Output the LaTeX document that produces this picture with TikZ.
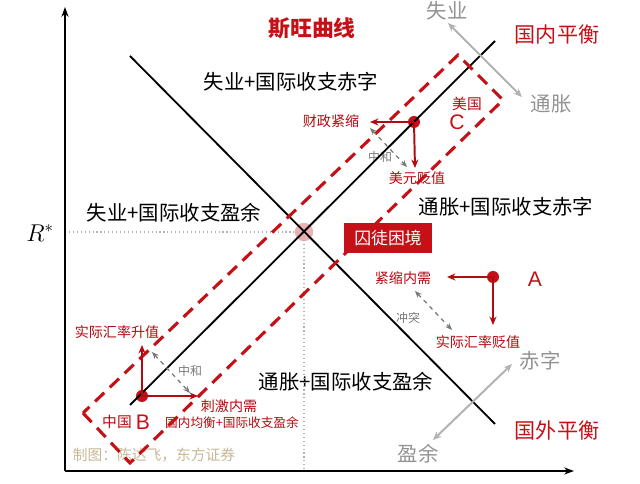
\documentclass[tikz,border=0pt]{standalone}
\usepackage{fontspec}
\setsansfont{Liberation Sans}
\newfontfamily\cjk{Noto Sans CJK SC}
\usetikzlibrary{arrows.meta}
\definecolor{swanred}{RGB}{196,16,22}
\definecolor{arrowred}{RGB}{178,10,16}
\definecolor{softgray}{RGB}{120,120,120}
\definecolor{lightgray}{RGB}{178,178,178}
\definecolor{credit}{RGB}{198,184,150}
\begin{document}
\begin{tikzpicture}[x=0.025cm,y=-0.025cm]
		\tikzset{dot/.style = {shape=circle, fill=swanred, inner sep=0pt, minimum size=0.3cm}}
		\tikzset{region/.style = {font=\cjk\fontsize{14.5}{15}\selectfont, inner sep=0pt}}
		\tikzset{redlbl/.style = {font=\cjk\fontsize{10}{11}\selectfont, text=arrowred, inner sep=0pt}}
		\tikzset{graylbl/.style = {font=\cjk\fontsize{14.5}{15}\selectfont, text=softgray!80, inner sep=0pt}}
		\tikzset{balance/.style = {font=\cjk\fontsize{15}{16}\selectfont, text=swanred, inner sep=0pt}}
		\tikzset{letter/.style = {font=\sffamily\fontsize{15}{16}\selectfont, text=swanred, inner sep=0pt}}
		\tikzset{move/.style = {draw=arrowred, line width=1.4pt, -{Stealth[length=6pt,width=5pt]}}}
		\tikzset{clash/.style = {draw=softgray, line width=0.9pt, dashed, {Stealth[length=5pt,width=4pt]}-{Stealth[length=5pt,width=4pt]}}}
		\tikzset{trend/.style = {draw=lightgray, line width=1.4pt, {Stealth[length=6pt,width=5pt]}-{Stealth[length=6pt,width=5pt]}}}
		\useasboundingbox (0,0) rectangle (640,484);

		\coordinate (O) at (65,471);
		\coordinate (Y_top) at (65,7);
		\coordinate (X_end) at (574,471);
		\coordinate (R_left) at (65,232);
		\coordinate (R_foot) at (304,471);

		\coordinate (IB_1) at (130,405);
		\coordinate (IB_2) at (495,41);
		\coordinate (EB_1) at (130,56);
		\coordinate (EB_2) at (495,424);

		\coordinate (Box_1) at (83,413);
		\coordinate (Box_2) at (130,463);
		\coordinate (Box_3) at (503,100);
		\coordinate (Box_4) at (458,55);

		\node[circle, fill=red!75!black, fill opacity=0.3, inner sep=0pt, minimum size=0.46cm] (X) at (304,232) {};
		\node[font=\fontsize{17}{18}\selectfont, inner sep=0pt] (R_star) at (40,233) {$R^{*}$};

		\node[font=\cjk\bfseries\fontsize{15.5}{16}\selectfont, text=swanred, inner sep=0pt] (title) at (312,28) {斯旺曲线};
		\node[balance] (IB_lbl) at (557,35) {国内平衡};
		\node[balance] (EB_lbl) at (557,430) {国外平衡};

		\node[region] (Q_1) at (291,82) {失业+国际收支赤字};
		\node[region] (Q_2) at (174,213) {失业+国际收支盈余};
		\node[region] (Q_3) at (506,207) {通胀+国际收支赤字};
		\node[region] (Q_4) at (346,382) {通胀+国际收支盈余};

		\node[graylbl] (U_lbl) at (447,11) {失业};
		\node[graylbl] (I_lbl) at (551,104) {通胀};
		\node[graylbl] (D_lbl) at (540,361) {赤字};
		\node[graylbl] (S_lbl) at (418,454) {盈余};
		\coordinate (U_end) at (448,23);
		\coordinate (I_end) at (522,97);
		\coordinate (D_end) at (512,364);
		\coordinate (S_end) at (433,440);

		\node[dot] (P_C) at (414,122) {};
		\coordinate (C_left) at (370,122);
		\coordinate (C_down) at (415,168);
		\coordinate (C_t1) at (370,128);
		\coordinate (C_t2) at (407,167);
		\node[redlbl] (C_fis) at (331,121) {财政紧缩};
		\node[redlbl] (C_usd) at (417,178) {美元贬值};
		\node[redlbl, font=\cjk\fontsize{10.5}{11}\selectfont] (C_name) at (467,104) {美国};
		\node[letter] (C) at (457,122) {C};
		\node[redlbl, text=softgray, font=\cjk\fontsize{8.5}{9}\selectfont] (C_mid) at (380,157) {中和};

		\node[dot] (P_A) at (493,277) {};
		\coordinate (A_left) at (447,277);
		\coordinate (A_down) at (493,325);
		\coordinate (A_t1) at (415,291);
		\coordinate (A_t2) at (452,330);
		\node[redlbl] (A_dem) at (403,278) {紧缩内需};
		\node[redlbl] (A_fx) at (478,342) {实际汇率贬值};
		\node[letter] (A) at (535,279) {A};
		\node[redlbl, text=softgray, font=\cjk\fontsize{8.5}{9}\selectfont] (A_mid) at (408,318) {冲突};

		\node[dot] (P_B) at (142,396) {};
		\coordinate (B_up) at (142,345);
		\coordinate (B_right) at (198,396);
		\coordinate (B_t1) at (152,352);
		\coordinate (B_t2) at (190,393);
		\node[redlbl] (B_fx) at (117,332) {实际汇率升值};
		\node[redlbl] (B_dem) at (229,406) {刺激内需};
		\node[redlbl, font=\cjk\fontsize{10.5}{11}\selectfont] (B_name) at (117,422) {中国};
		\node[letter] (B) at (143,422) {B};
		\node[redlbl, font=\cjk\fontsize{9}{10}\selectfont] (B_note) at (232,423) {国内均衡+国际收支盈余};
		\node[redlbl, text=softgray, font=\cjk\fontsize{8.5}{9}\selectfont] (B_mid) at (190,371) {中和};

		\node[font=\cjk\fontsize{10.5}{11}\selectfont, text=credit, inner sep=0pt] (credit) at (154,455) {制图：陈达飞，东方证券};




		\draw[lightgray, dotted, line width=0.8pt] (R_left)--(X.center);
		\draw[lightgray, dotted, line width=0.8pt] (X.center)--(R_foot);

		\draw[line width=1.5pt, -{Stealth[length=7pt,width=5pt]}] (O)--(Y_top);
		\draw[line width=1.5pt, -{Stealth[length=7pt,width=5pt]}] (O)--(X_end);

		\draw[line width=1.3pt] (IB_1)--(IB_2);
		\draw[line width=1.3pt] (EB_1)--(EB_2);

		\draw[swanred, line width=2.2pt, dash pattern=on 9pt off 5.5pt] (Box_1)--(Box_2)--(Box_3)--(Box_4)--cycle;

		\draw[trend] (U_end)--(I_end);
		\draw[trend] (S_end)--(D_end);

		\node[fill=swanred, text=white, font=\cjk\fontsize{12}{13}\selectfont, minimum width=2.22cm, minimum height=0.75cm, inner sep=0pt] (trap) at (388,238) {囚徒困境};



		\draw[move] (P_C.center)--(C_left);
		\draw[move] (P_C.center)--(C_down);
		\draw[clash] (C_t1)--(C_t2);

		\draw[move] (P_A.center)--(A_left);
		\draw[move] (P_A.center)--(A_down);
		\draw[clash] (A_t1)--(A_t2);

		\draw[move] (P_B.center)--(B_up);
		\draw[move] (P_B.center)--(B_right);
		\draw[clash] (B_t1)--(B_t2);

	\end{tikzpicture}
\end{document}
